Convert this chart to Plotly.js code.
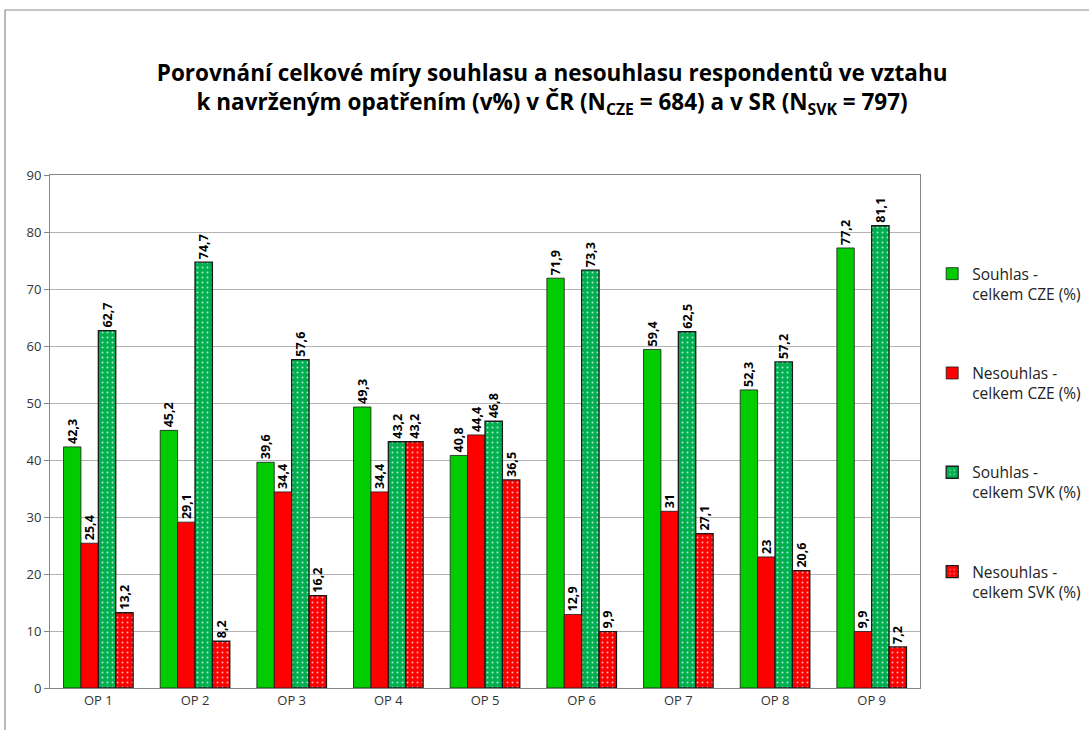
<!DOCTYPE html>
<html><head><meta charset="utf-8">
<script src="https://cdn.plot.ly/plotly-3.0.1.min.js"></script>
<style>html,body{margin:0;padding:0;background:#fff}#chart{width:1089px;height:730px}</style>
</head><body><div id="chart"></div>
<script>
const categories = ["OP 1","OP 2","OP 3","OP 4","OP 5","OP 6","OP 7","OP 8","OP 9"];
const souhlasCZE = [42.3, 45.2, 39.6, 49.3, 40.8, 71.9, 59.4, 52.3, 77.2];
const nesouhlasCZE = [25.4, 29.1, 34.4, 34.4, 44.4, 12.9, 31, 23, 9.9];
const souhlasSVK = [62.7, 74.7, 57.6, 43.2, 46.8, 73.3, 62.5, 57.2, 81.1];
const nesouhlasSVK = [13.2, 8.2, 16.2, 43.2, 36.5, 9.9, 27.1, 20.6, 7.2];
const seriesNames = ["Souhlas -<br>celkem CZE (%)","Nesouhlas -<br>celkem CZE (%)","Souhlas -<br>celkem SVK (%)","Nesouhlas -<br>celkem SVK (%)"];
const yTicks = [0,10,20,30,40,50,60,70,80,90];

const FONT = "Open Sans, Noto Sans, sans-serif";
const fmt = v => String(v).replace('.', ',');

function mk(vals, name, color, dotted, grp) {
  const marker = {color: color, line: {color: '#1a1a1a', width: dotted ? 1.3 : 0.8}};
  if (dotted) marker.pattern = {shape: '.', fillmode: 'replace', bgcolor: color, fgcolor: '#ffffff', fgopacity: 0.7, size: 5, solidity: 0.12};
  return {
    type: 'bar', x: categories, y: vals, name: name, legendgroup: grp,
    marker: marker,
    text: vals.map(fmt), textposition: 'outside', textangle: -90,
    constraintext: 'none', cliponaxis: false,
    textfont: {family: FONT, size: 12.5, color: '#000', weight: 'bold'},
    hoverinfo: 'y'
  };
}

const data = [
  mk(souhlasCZE, seriesNames[0], '#00CC00', false, 'a'),
  mk(nesouhlasCZE, seriesNames[1], '#FF0000', false, 'b'),
  mk(souhlasSVK, seriesNames[2], '#00B050', true, 'c'),
  mk(nesouhlasSVK, seriesNames[3], '#FF0000', true, 'd')
];

const layout = {
  width: 1089, height: 730,
  margin: {l: 50, r: 169, t: 175, b: 42, autoexpand: false},
  paper_bgcolor: '#ffffff', plot_bgcolor: '#ffffff',
  barmode: 'group', bargap: 0.28, bargroupgap: 0,
  font: {family: FONT, color: '#333'},
  title: {
    text: '<b>Porovnání celkové míry souhlasu a nesouhlasu respondentů ve vztahu<br>k navrženým opatřením (v%) v ČR (N<sub>CZE</sub> = 684) a v SR (N<sub>SVK</sub> = 797)</b>',
    font: {family: FONT, size: 22.5, color: '#000'},
    x: 0.507, xanchor: 'center', xref: 'container',
    y: 0.889, yanchor: 'top', yref: 'container'
  },
  xaxis: {
    showline: true, linecolor: '#868686', linewidth: 1, mirror: true,
    ticks: '', tickfont: {family: FONT, size: 13, color: '#333'},
    showgrid: false, fixedrange: true
  },
  yaxis: {
    range: [0, 90], tickvals: yTicks, ticktext: yTicks.map(String),
    showline: true, linecolor: '#868686', linewidth: 1, mirror: true,
    ticks: 'outside', ticklen: 5, tickcolor: '#868686',
    showgrid: true, gridcolor: '#b3b3b3', gridwidth: 1,
    zeroline: false, tickfont: {family: FONT, size: 13, color: '#333'},
    fixedrange: true
  },
  showlegend: true,
  legend: {
    x: 1.014, xanchor: 'left', y: 0.84, yanchor: 'top',
    valign: 'top', tracegroupgap: 56, traceorder: 'grouped',
    font: {family: FONT, size: 15.5, color: '#222'},
    itemwidth: 30, bgcolor: 'rgba(0,0,0,0)'
  },
  shapes: [
    {type: 'rect', xref: 'paper', yref: 'paper', x0: -0.0517, x1: 1.3, y0: -0.2, y1: 1.3216,
     line: {color: '#8c8c8c', width: 1.2}, fillcolor: 'rgba(0,0,0,0)', layer: 'below'}
  ]
};

Plotly.newPlot('chart', data, layout, {displayModeBar: false, staticPlot: true});
</script>
</body></html>
